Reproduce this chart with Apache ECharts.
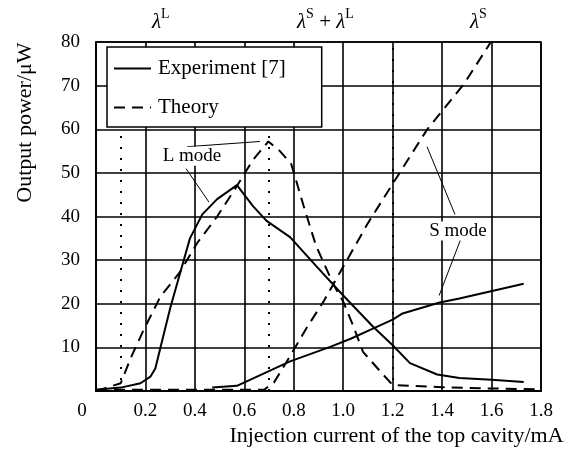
<!DOCTYPE html>
<html>
<head>
<meta charset="utf-8">
<script src="https://cdn.jsdelivr.net/npm/echarts@6/dist/echarts.min.js"></script>
<style>html,body{margin:0;padding:0;background:#fff}#c{width:571px;height:452px}</style>
</head>
<body>
<div id="c"></div>
<script>
// ---- data ----
var xTicks = [0, 0.2, 0.4, 0.6, 0.8, 1.0, 1.2, 1.4, 1.6, 1.8];
var yTicks = [10, 20, 30, 40, 50, 60, 70, 80];
var expL = [[0,0.3],[0.1,0.8],[0.18,1.8],[0.22,3.3],[0.24,5.2],[0.26,9.8],[0.30,19],[0.34,27],[0.38,35],[0.43,40.5],[0.49,44],[0.57,47.2],[0.635,42.4],[0.69,39],[0.785,35.3],[0.89,28.7],[1.0,21.9],[1.12,14.8],[1.2,10.5],[1.27,6.4],[1.38,3.8],[1.47,3.0],[1.6,2.6],[1.73,2.1]];
var expS = [[0.47,0.8],[0.57,1.2],[0.785,6.8],[0.95,10.2],[1.03,12],[1.12,14.3],[1.2,16.4],[1.24,17.8],[1.39,20.3],[1.47,21.2],[1.73,24.6]];
var theoryL = [[0,0],[0.1,1.8],[0.14,7.5],[0.19,13.7],[0.26,21.6],[0.34,27.3],[0.41,34],[0.49,40],[0.57,47],[0.635,53],[0.697,57.2],[0.744,55],[0.79,52],[0.84,42.4],[0.89,33.3],[0.96,24.5],[1.0,20.5],[1.04,15],[1.08,9],[1.15,4.5],[1.2,1.4],[1.4,0.9],[1.6,0.6],[1.8,0.4]];
var theoryS = [[0,0.3],[0.68,0.3],[0.72,2],[0.785,8],[0.85,14.3],[0.92,20.5],[1.0,28.5],[1.1,38.5],[1.2,47.5],[1.34,60],[1.49,70.5],[1.595,79.8]];
var dottedX = [0.1, 0.7, 1.2];
var modeLabels = [{name:'L mode', at:[0.388, 53.8]}, {name:'S mode', at:[1.464, 36.7]}];
var leaders = [[[0.368,56],[0.663,57.2]], [[0.364,51],[0.457,43.3]], [[1.339,56],[1.452,40.5]], [[1.48,35.5],[1.388,21.9]]];
var legendNames = ['Experiment [7]', 'Theory'];

var FONT = 'Liberation Serif';
var chart = echarts.init(document.getElementById('c'), null, {renderer:'canvas'});
var solid = {color:'#000', width:2, type:'solid'};
var dashed = {color:'#000', width:2, type:[11,7]};
var supRich = {
  i:{fontFamily:FONT, fontStyle:'italic', fontSize:21, lineHeight:26, verticalAlign:'bottom', color:'#000'},
  s:{fontFamily:FONT, fontSize:14, lineHeight:16, verticalAlign:'top', color:'#000'},
  n:{fontFamily:FONT, fontSize:21, lineHeight:26, verticalAlign:'bottom', color:'#000'}
};
chart.setOption({
  animation:false,
  grid:{left:96, right:30, top:42, bottom:59, show:true, borderColor:'#000', borderWidth:1.6, backgroundColor:'transparent'},
  legend:{
    data:legendNames, left:107, top:47, orient:'vertical', z:20,
    backgroundColor:'#fff', borderColor:'#000', borderWidth:1.5,
    padding:[11,36,9,6], itemGap:18, itemWidth:37, itemHeight:20,
    itemStyle:{opacity:0, borderWidth:0},
    textStyle:{fontFamily:FONT, fontSize:21, color:'#000', padding:[0,0,0,2]}
  },
  xAxis:{
    type:'value', min:0, max:1.8, interval:0.2,
    axisLine:{lineStyle:{color:'#000', width:1.6}}, axisTick:{show:false},
    splitLine:{show:true, lineStyle:{color:'#000', width:1.6}},
    axisLabel:{fontFamily:FONT, fontSize:19, color:'#000', margin:10,
      formatter:function(v){ if (v===0) return '{z|0}'; var t = xTicks.filter(function(k){return Math.abs(k-v)<1e-9;})[0]; return t.toFixed(1); },
      rich:{z:{fontFamily:FONT, fontSize:19, color:'#000', padding:[0,28,0,0]}}},
    name:'Injection current of the top cavity/mA', nameLocation:'middle', nameGap:32,
    nameTextStyle:{fontFamily:FONT, fontSize:22, color:'#000', padding:[0,0,0,156]}
  },
  yAxis:{
    type:'value', min:0, max:80, interval:10,
    axisLine:{lineStyle:{color:'#000', width:1.6}}, axisTick:{show:false},
    splitLine:{show:true, lineStyle:{color:'#000', width:1.6}},
    axisLabel:{fontFamily:FONT, fontSize:19, color:'#000', margin:16,
      formatter:function(v){ return yTicks.indexOf(v) >= 0 ? String(v) : ''; }},
    name:'Output power/\u03bcW', nameLocation:'middle', nameGap:60, nameRotate:90,
    nameTextStyle:{fontFamily:FONT, fontSize:22, color:'#000', padding:[0,0,0,188]}
  },
  graphic:[
    {type:'text', left:152, top:7, z:10, style:{text:'{i|\u03bb}{s|L}', rich:supRich}},
    {type:'text', left:297, top:7, z:10, style:{text:'{i|\u03bb}{s|S}{n| + }{i|\u03bb}{s|L}', rich:supRich}},
    {type:'text', left:470, top:7, z:10, style:{text:'{i|\u03bb}{s|S}', rich:supRich}}
  ],
  series:[
    {name:legendNames[0], type:'line', data:expL, symbol:'none', lineStyle:solid, itemStyle:{color:'#000'}, z:3,
      markLine:{silent:true, symbol:['none','none'], label:{show:false},
        lineStyle:{color:'#000', width:2, type:[2,9]},
        data:dottedX.map(function(x){return {xAxis:x};})},
      markPoint:{silent:true, symbol:'rect', symbolSize:0,
        data:modeLabels.map(function(m){return {coord:m.at, value:m.name,
          label:{show:true, position:'inside', formatter:m.name, fontFamily:FONT, fontSize:19, color:'#000', backgroundColor:'#fff', padding:[0,1]}};})}
    },
    {name:legendNames[0], type:'line', data:expS, symbol:'none', lineStyle:solid, itemStyle:{color:'#000'}, z:3,
      markLine:{silent:true, symbol:['none','none'], label:{show:false},
        lineStyle:{color:'#000', width:1, type:'solid'},
        data:leaders.map(function(p){return [{coord:p[0]},{coord:p[1]}];})}
    },
    {name:legendNames[1], type:'line', data:theoryL, symbol:'none', lineStyle:dashed, itemStyle:{color:'#000'}, z:3},
    {name:legendNames[1], type:'line', data:theoryS, symbol:'none', lineStyle:dashed, itemStyle:{color:'#000'}, z:3}
  ]
});
</script>
</body>
</html>
